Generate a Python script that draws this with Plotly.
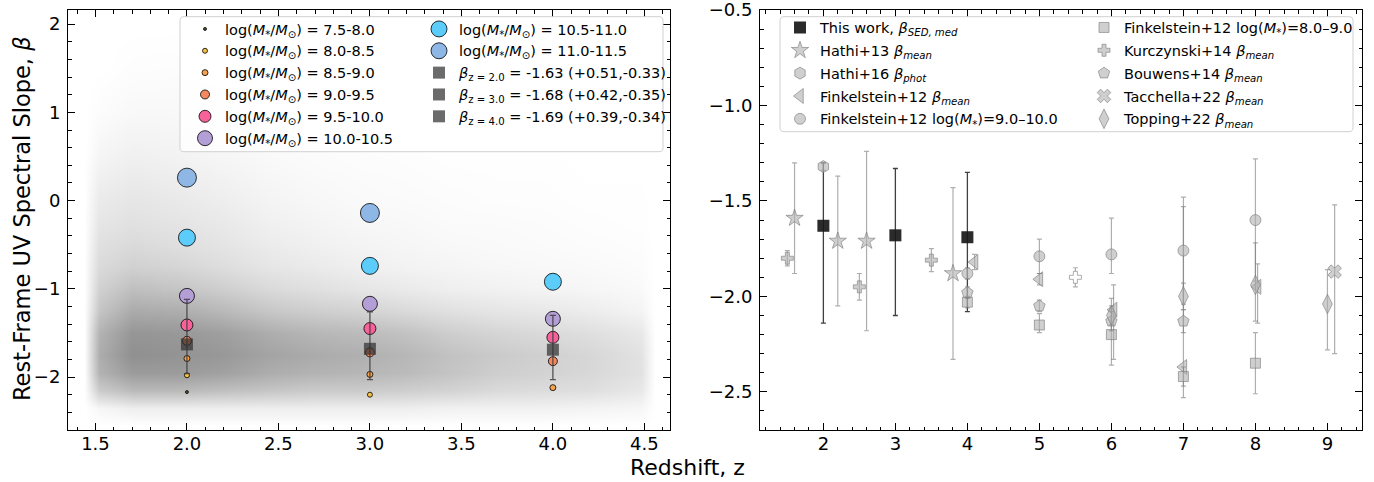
import plotly.graph_objects as go

# ---------------- LEFT PANEL DATA ----------------
# background galaxy cloud: estimated darkness (0..1) on a coarse grid
cloud_z = [1.44, 1.52, 1.70, 1.95, 2.20, 2.45, 2.70, 2.95, 3.20, 3.45, 3.70, 3.95, 4.20, 4.48, 4.56]
cloud_beta = [-2.55, -2.35, -2.15, -1.95, -1.75, -1.50, -1.25, -1.00, -0.75, -0.50, -0.25, 0.00, 0.50, 1.00, 1.50, 2.00]
cloud_density = [
    [0, 0.00, 0.00, 0.00, 0.00, 0.00, 0.00, 0.00, 0.00, 0.00, 0.00, 0.00, 0.00, 0.00, 0],
    [0, 0.08, 0.15, 0.15, 0.15, 0.15, 0.15, 0.15, 0.15, 0.12, 0.12, 0.12, 0.10, 0.08, 0],
    [0, 0.45, 0.60, 0.60, 0.55, 0.50, 0.45, 0.45, 0.42, 0.38, 0.32, 0.30, 0.28, 0.20, 0],
    [0, 0.65, 0.85, 0.85, 0.80, 0.70, 0.65, 0.62, 0.58, 0.50, 0.42, 0.38, 0.34, 0.25, 0],
    [0, 0.70, 0.95, 0.92, 0.88, 0.78, 0.72, 0.68, 0.62, 0.52, 0.45, 0.40, 0.35, 0.25, 0],
    [0, 0.65, 0.90, 0.88, 0.82, 0.70, 0.62, 0.58, 0.52, 0.42, 0.36, 0.32, 0.28, 0.20, 0],
    [0, 0.50, 0.72, 0.70, 0.60, 0.48, 0.42, 0.38, 0.32, 0.26, 0.22, 0.20, 0.16, 0.10, 0],
    [0, 0.40, 0.55, 0.50, 0.42, 0.32, 0.27, 0.22, 0.18, 0.14, 0.12, 0.10, 0.08, 0.05, 0],
    [0, 0.32, 0.40, 0.36, 0.29, 0.22, 0.18, 0.14, 0.11, 0.09, 0.07, 0.06, 0.05, 0.03, 0],
    [0, 0.27, 0.32, 0.28, 0.23, 0.17, 0.13, 0.10, 0.08, 0.06, 0.05, 0.04, 0.03, 0.02, 0],
    [0, 0.22, 0.26, 0.23, 0.19, 0.13, 0.10, 0.07, 0.06, 0.04, 0.04, 0.03, 0.02, 0.01, 0],
    [0, 0.18, 0.22, 0.19, 0.15, 0.10, 0.07, 0.05, 0.04, 0.03, 0.02, 0.02, 0.01, 0.01, 0],
    [0, 0.09, 0.13, 0.11, 0.08, 0.05, 0.035, 0.025, 0.02, 0.01, 0.01, 0.01, 0.00, 0.00, 0],
    [0, 0.03, 0.06, 0.06, 0.045, 0.025, 0.015, 0.01, 0.005, 0.00, 0.00, 0.00, 0.00, 0.00, 0],
    [0, 0.00, 0.02, 0.025, 0.02, 0.01, 0.00, 0.00, 0.00, 0.00, 0.00, 0.00, 0.00, 0.00, 0],
    [0, 0.00, 0.00, 0.00, 0.00, 0.00, 0.00, 0.00, 0.00, 0.00, 0.00, 0.00, 0.00, 0.00, 0],
]

mass_bins = ["7.5-8.0", "8.0-8.5", "8.5-9.0", "9.0-9.5", "9.5-10.0", "10.0-10.5", "10.5-11.0", "11.0-11.5"]
mass_z = [[2.0], [2.0, 3.0], [2.0, 3.0, 4.0], [2.0, 3.0, 4.0], [2.0, 3.0, 4.0], [2.0, 3.0, 4.0], [2.0, 3.0, 4.0], [2.0, 3.0]]
mass_beta = [[-2.17], [-1.98, -2.20], [-1.79, -1.97, -2.12], [-1.59, -1.72, -1.82],
             [-1.41, -1.45, -1.55], [-1.08, -1.17, -1.34], [-0.42, -0.74, -0.92], [0.26, -0.14]]

med_z = [2.0, 3.0, 4.0]
med_beta = [-1.63, -1.68, -1.69]
med_err_plus = [0.51, 0.42, 0.39]
med_err_minus = [0.33, 0.35, 0.34]

# ---------------- RIGHT PANEL DATA (literature) ----------------
hathi13_z = [1.6, 2.2, 2.6, 3.8]
hathi13_beta = [-1.59, -1.71, -1.71, -1.88]
hathi13_err = [0.29, 0.34, 0.47, 0.45]

hathi16_z = [2.0]
hathi16_beta = [-1.32]
hathi16_err = [0.02]

fink_mean_z = [4.1, 5.0, 6.03, 7.0, 8.03]
fink_mean_beta = [-1.82, -1.91, -2.07, -2.37, -1.95]
fink_mean_err_plus = [0.04, 0.03, 0.13, 0.84, 0.12]
fink_mean_err_minus = [0.04, 0.03, 0.26, 0.16, 0.19]

fink_hi_z = [4.0, 5.0, 6.0, 7.0, 8.0]
fink_hi_beta = [-1.88, -1.79, -1.78, -1.76, -1.60]
fink_hi_err_plus = [0.03, 0.09, 0.19, 0.28, 0.32]
fink_hi_err_minus = [0.03, 0.09, 0.10, 0.28, 0.32]

fink_lo_z = [4.0, 5.0, 6.0, 7.0, 8.0]
fink_lo_beta = [-2.03, -2.15, -2.20, -2.42, -2.35]
fink_lo_err_plus = [0.03, 0.06, 0.19, 0.05, 0.16]
fink_lo_err_minus = [0.03, 0.04, 0.16, 0.05, 0.16]

kurcz_z = [1.5, 2.5, 3.5, 5.5]
kurcz_beta = [-1.80, -1.95, -1.81, -1.90]
kurcz_err = [0.04, 0.07, 0.06, 0.05]

bouwens_z = [4.0, 5.0, 6.0, 7.0]
bouwens_beta = [-1.98, -2.05, -2.13, -2.13]
bouwens_err = [0.03, 0.03, 0.05, 0.06]

tacchella_z = [9.1]
tacchella_beta = [-1.87]
tacchella_err_plus = [0.35]
tacchella_err_minus = [0.43]

topping_z = [6.0, 7.0, 8.0, 9.0]
topping_beta = [-2.10, -2.00, -1.94, -2.04]
topping_err_plus = [0.05, 0.07, 0.22, 0.18]
topping_err_minus = [0.05, 0.07, 0.19, 0.24]

# ---------------- STYLES / GEOMETRY ----------------
FONT = "DejaVu Sans"
mass_colors = ["#55552f", "#f7c043", "#f5a24e", "#f4895f", "#f7629a", "#b49ed6", "#5ccdfb", "#8fb7e6"]
mass_sizes = [3, 5, 6, 9, 12, 15, 17, 19]

OFF = 0                      # body margin is removed by the post script
W, H = 1374, 482
ML, MR, MT, MB = 68, 12, 10, 52
PW, PH = W - ML - MR, H - MT - MB


def px(xs):   # screen pixel x -> paper
    return (xs - OFF - ML) / PW


def py(ys):   # screen pixel y -> paper
    return (OFF + MT + PH - ys) / PH


fig = go.Figure()

fig.add_trace(go.Heatmap(
    x=cloud_z, y=cloud_beta, z=cloud_density, zsmooth="best", zmin=0, zmax=1,
    colorscale=[[0, "rgba(128,128,128,0)"], [1, "rgba(128,128,128,0.92)"]],
    showscale=False, hoverinfo="skip", showlegend=False, xaxis="x", yaxis="y"))

mass_label = "log(<i>M</i><sub>*</sub>/<i>M</i><sub>⊙</sub>) = "
for i, lab in enumerate(mass_bins):
    fig.add_trace(go.Scatter(
        x=mass_z[i], y=mass_beta[i], mode="markers", name=mass_label + lab,
        marker=dict(size=mass_sizes[i], color=mass_colors[i], line=dict(color="black", width=0.8)),
        legend="legend" if i < 6 else "legend2", legendgroup="m%d" % i, xaxis="x", yaxis="y"))

for i in range(len(med_z)):
    nm = "<i>β</i><sub>z = %.1f</sub> = %.2f (+%.2f,-%.2f)" % (med_z[i], med_beta[i], med_err_plus[i], med_err_minus[i])
    fig.add_trace(go.Scatter(
        x=[med_z[i]], y=[med_beta[i]], mode="markers", name=nm,
        marker=dict(symbol="square", size=12, color="rgba(50,50,50,0.72)", line=dict(width=0)),
        error_y=dict(type="data", array=[med_err_plus[i]], arrayminus=[med_err_minus[i]],
                     color="rgba(60,60,60,0.85)", thickness=1.3, width=3),
        legend="legend2", legendgroup="q%d" % i, xaxis="x", yaxis="y"))

GREY_FILL = "rgba(175,175,175,0.6)"
GREY_EDGE = "rgba(120,120,120,0.6)"
GREY_ERR = "rgba(120,120,120,0.6)"


def lit(x, y, ep, em, name, symbol, size, leg, fill=GREY_FILL):
    return go.Scatter(
        x=x, y=y, mode="markers", name=name, legendgroup=name,
        marker=dict(symbol=symbol, size=size, color=fill, line=dict(color=GREY_EDGE, width=1)),
        error_y=dict(type="data", array=ep, arrayminus=em, color=GREY_ERR, thickness=1.2, width=2.5),
        legend=leg, xaxis="x2", yaxis="y2")


def bsub(s):
    return "<i>β</i><sub><i>%s</i></sub>" % s


fig.add_trace(go.Scatter(
    x=med_z, y=med_beta, mode="markers", name="This work, " + bsub("SED, med"), legendgroup="tw",
    marker=dict(symbol="square", size=12, color="rgba(25,25,25,0.92)", line=dict(width=0)),
    error_y=dict(type="data", array=med_err_minus, arrayminus=med_err_plus,
                 color="rgba(30,30,30,0.85)", thickness=1.3, width=2.5),
    legend="legend3", xaxis="x2", yaxis="y2"))
fig.add_trace(lit(hathi13_z, hathi13_beta, hathi13_err, hathi13_err, "Hathi+13 " + bsub("mean"), "star", 13, "legend3"))
fig.add_trace(lit(hathi16_z, hathi16_beta, hathi16_err, hathi16_err, "Hathi+16 " + bsub("phot"), "hexagon", 12, "legend3"))
fig.add_trace(lit(fink_mean_z, fink_mean_beta, fink_mean_err_plus, fink_mean_err_minus,
                  "Finkelstein+12 " + bsub("mean"), "triangle-left", 13, "legend3"))
fig.add_trace(lit(fink_hi_z, fink_hi_beta, fink_hi_err_plus, fink_hi_err_minus,
                  "Finkelstein+12 log(<i>M</i><sub>*</sub>)=9.0–10.0", "circle", 11, "legend3"))
fig.add_trace(lit(fink_lo_z, fink_lo_beta, fink_lo_err_plus, fink_lo_err_minus,
                  "Finkelstein+12 log(<i>M</i><sub>*</sub>)=8.0–9.0", "square", 10, "legend4"))
fig.add_trace(lit(kurcz_z, kurcz_beta, kurcz_err, kurcz_err, "Kurczynski+14 " + bsub("mean"), "cross", 10, "legend4",
                  fill=[GREY_FILL, GREY_FILL, GREY_FILL, "white"]))
fig.add_trace(lit(bouwens_z, bouwens_beta, bouwens_err, bouwens_err, "Bouwens+14 " + bsub("mean"), "pentagon", 12, "legend4"))
fig.add_trace(lit(tacchella_z, tacchella_beta, tacchella_err_plus, tacchella_err_minus,
                  "Tacchella+22 " + bsub("mean"), "x", 12, "legend4"))
fig.add_trace(lit(topping_z, topping_beta, topping_err_plus, topping_err_minus,
                  "Topping+22 " + bsub("mean"), "diamond-tall", 14, "legend4"))

axis_common = dict(ticks="inside", ticklen=7, tickwidth=1, tickcolor="black", showline=True, linecolor="black",
                   linewidth=1, mirror="allticks", showgrid=False, zeroline=False, ticklabeloverflow="allow",
                   tickfont=dict(family=FONT, size=18, color="black"))
xminor = dict(ticks="inside", ticklen=3.5, tickcolor="black")

fig.update_layout(
    width=W, height=H, margin=dict(l=ML, r=MR, t=MT, b=MB, autoexpand=False),
    paper_bgcolor="white", plot_bgcolor="white", font=dict(family=FONT, color="black"),
    xaxis=dict(domain=[0, px(670)], range=[1.35, 4.64], dtick=0.5, tick0=1.5, tickformat=".1f", anchor="y",
               ticklabelstandoff=-3, minor=dict(dtick=0.1, **xminor), **axis_common),
    yaxis=dict(domain=[0, 1], range=[-2.6, 2.16], dtick=1, tick0=0, anchor="x",
               ticklabelstandoff=3, minor=dict(dtick=0.2, **xminor), **axis_common),
    xaxis2=dict(domain=[px(760), 1], range=[1.12, 9.48], dtick=1, tick0=0, anchor="y2",
                ticklabelstandoff=-3, minor=dict(dtick=0.2, **xminor), **axis_common),
    yaxis2=dict(domain=[0, 1], range=[-2.7, -0.4995], dtick=0.5, tick0=0, tickformat=".1f", anchor="x2",
                ticklabelstandoff=3, minor=dict(dtick=0.1, **xminor), **axis_common),
)

leg_common = dict(bgcolor="rgba(0,0,0,0)", borderwidth=0, font=dict(family=FONT, size=14.5, color="black"),
                  xanchor="left", yanchor="top", itemsizing="trace", traceorder="grouped")
fig.update_layout(
    legend=dict(x=px(185), y=py(13), tracegroupgap=0, **leg_common),
    legend2=dict(x=px(419), y=py(13), tracegroupgap=0, **leg_common),
    legend3=dict(x=px(780), y=py(11.5), tracegroupgap=1, **leg_common),
    legend4=dict(x=px(1084), y=py(11.5), tracegroupgap=1, **leg_common),
)


def rounded_box(x0s, y0s, x1s, y1s, r=4):
    x0, x1, y0, y1 = px(x0s), px(x1s), py(y1s), py(y0s)
    rx, ry = r / PW, r / PH
    return ("M %f,%f L %f,%f Q %f,%f %f,%f L %f,%f Q %f,%f %f,%f L %f,%f Q %f,%f %f,%f L %f,%f Q %f,%f %f,%f Z" % (
        x0 + rx, y0, x1 - rx, y0, x1, y0, x1, y0 + ry, x1, y1 - ry, x1, y1, x1 - rx, y1,
        x0 + rx, y1, x0, y1, x0, y1 - ry, x0, y0 + ry, x0, y0, x0 + rx, y0))


for box in [(180, 16.7, 663, 151.7), (780, 16.7, 1353, 131.7)]:
    fig.add_shape(type="path", path=rounded_box(*box), xref="paper", yref="paper",
                  fillcolor="rgba(255,255,255,0.8)", line=dict(color="#d0d0d0", width=1), layer="above")

fig.add_annotation(text="Redshift, z", x=px(687), y=py(468), xref="paper", yref="paper", showarrow=False,
                   font=dict(family=FONT, size=22, color="black"), xanchor="center", yanchor="middle")
fig.add_annotation(text="Rest-Frame UV Spectral Slope, <i>β</i>", x=px(22), y=py(219), xref="paper", yref="paper",
                   showarrow=False, textangle=-90, font=dict(family=FONT, size=22.5, color="black"),
                   xanchor="center", yanchor="middle")

fig.write_html("out.html", config={"displayModeBar": False},
               post_script="document.body.style.margin='0px'; document.body.style.overflow='hidden';")
